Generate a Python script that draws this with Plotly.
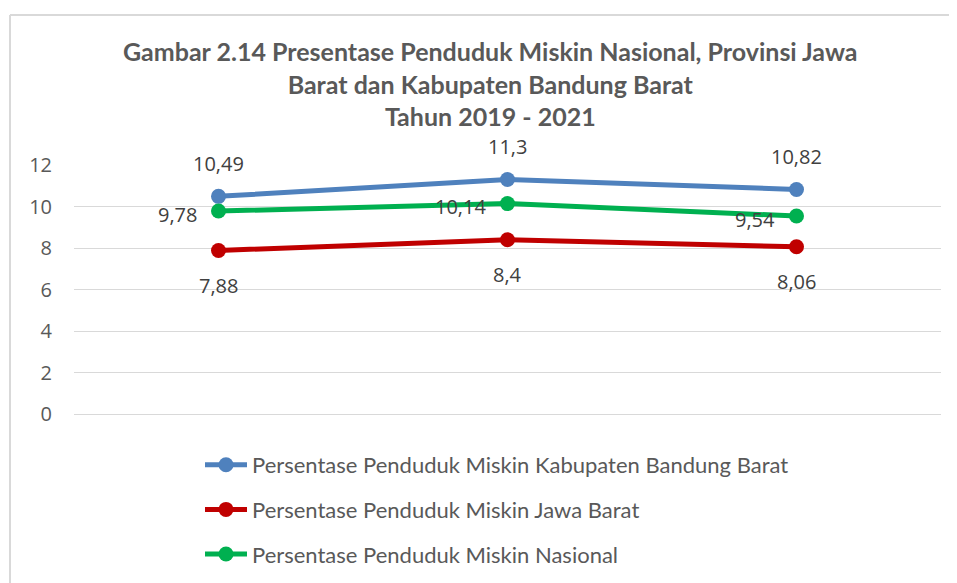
import plotly.graph_objects as go

years = ["2019", "2020", "2021"]
kbb = [10.49, 11.3, 10.82]
jabar = [7.88, 8.4, 8.06]
nasional = [9.78, 10.14, 9.54]
labels_kbb = ["10,49", "11,3", "10,82"]
labels_jabar = ["7,88", "8,4", "8,06"]
labels_nas = ["9,78", "10,14", "9,54"]
y_ticks = [0, 2, 4, 6, 8, 10, 12]

names = [
    "Persentase Penduduk Miskin Kabupaten Bandung Barat",
    "Persentase Penduduk Miskin Jawa Barat",
    "Persentase Penduduk Miskin Nasional",
]
colors = ["#4F81BD", "#C00000", "#00B050"]

# page has an 8px body margin; figure coordinates are page coordinates minus 8
OFF = 8
W, H = 957 - OFF, 583 - OFF
L, R, T, B = 74 - OFF, 16, 165 - OFF, 169
pw, ph = W - L - R, H - T - B


def px_x(p):
    return (p - OFF - L) / pw


def px_y(p):
    return (H - B - (p - OFF)) / ph


fig = go.Figure()
for i, (vals, nm, col) in enumerate(zip([kbb, jabar, nasional], names, colors)):
    fig.add_trace(go.Scatter(
        x=years, y=vals, name=nm, mode="lines+markers",
        line=dict(color=col, width=5),
        marker=dict(color=col, size=15),
        legendgroup=f"g{i}",
    ))

label_font = dict(family="Open Sans", size=20, color="#404040")
ann = []
for i, (v, t) in enumerate(zip(kbb, labels_kbb)):
    ann.append(dict(x=i, y=v, text=t, showarrow=False, yshift=33, font=label_font))
for i, (v, t) in enumerate(zip(jabar, labels_jabar)):
    ann.append(dict(x=i, y=v, text=t, showarrow=False, yshift=-35, font=label_font))
for i, (v, t) in enumerate(zip(nasional, labels_nas)):
    ann.append(dict(x=i, y=v, text=t, showarrow=False, xanchor="right", xshift=-20,
                    yshift=-3, font=label_font))

ann.append(dict(
    xref="paper", yref="paper", x=px_x(490), y=px_y(84),
    xanchor="center", yanchor="middle", showarrow=False,
    text="<b>Gambar 2.14 Presentase Penduduk Miskin Nasional, Provinsi Jawa<br>"
         "Barat dan Kabupaten Bandung Barat<br>Tahun 2019 - 2021</b>",
    font=dict(family="Lato", size=25, color="#595959"),
))

shapes = [
    dict(type="line", xref="paper", yref="paper", x0=px_x(10), x1=px_x(970),
         y0=px_y(15), y1=px_y(15), line=dict(color="#D9D9D9", width=2)),
    dict(type="line", xref="paper", yref="paper", x0=px_x(10), x1=px_x(10),
         y0=px_y(15), y1=px_y(600), line=dict(color="#D9D9D9", width=2)),
]

fig.update_layout(
    width=W, height=H,
    margin=dict(l=L, r=R, t=T, b=B, autoexpand=False),
    paper_bgcolor="white", plot_bgcolor="white",
    showlegend=True,
    legend=dict(
        xref="container", yref="container",
        x=(200 - OFF) / W, y=1 - (444 - OFF) / H, xanchor="left", yanchor="top",
        font=dict(family="Lato", size=22, color="#595959"),
        tracegroupgap=13, itemwidth=42, bgcolor="rgba(0,0,0,0)",
    ),
    xaxis=dict(type="category", showticklabels=False, showgrid=False, zeroline=False,
               showline=False, ticks="", range=[-0.5, 2.5]),
    yaxis=dict(range=[0, 12], tickvals=y_ticks, showgrid=True, gridcolor="#D9D9D9",
               gridwidth=1, zeroline=True, zerolinecolor="#D9D9D9", zerolinewidth=1,
               showline=False, ticks="",
               tickfont=dict(family="Open Sans", size=20, color="#595959"),
               ticklabelstandoff=21),
    annotations=ann,
    shapes=shapes,
)

fig.write_html("out.html")
